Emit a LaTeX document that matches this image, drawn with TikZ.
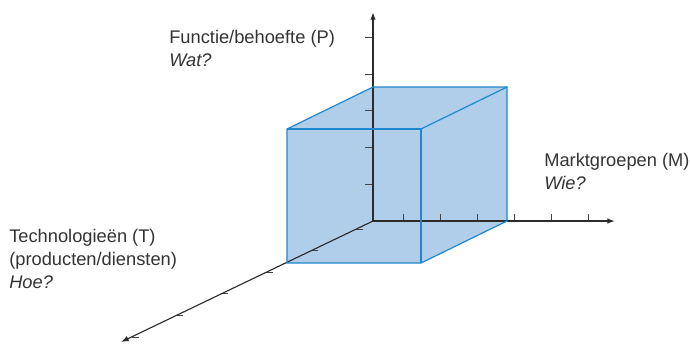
\documentclass[tikz,border=0pt]{standalone}
\usepackage{fontspec}
\setmainfont{Liberation Sans}
\usetikzlibrary{arrows.meta,calc}
\definecolor{cubefillblue}{HTML}{B0CDEA}
\definecolor{cubeedgeblue}{HTML}{1F88CC}
\definecolor{axisgray}{HTML}{2B2B2B}
\definecolor{tickgray}{HTML}{444444}
\definecolor{textgray}{HTML}{333333}
\tikzset{
  >={Latex[length=5.5pt,width=4pt]},
  axis/.style={draw=axisgray, ->, line width=1pt},
  tickmark/.style={draw=tickgray, line width=0.6pt},
  cubeface/.style={fill=cubefillblue},
  cubeedge/.style={draw=cubeedgeblue, line width=0.85pt, line join=miter},
  lbl/.style={
    text=textgray,
    font=\fontsize{13}{16.1}\selectfont,
    align=left,
    inner sep=0pt,
    anchor=base west
  }
}

\begin{document}
\begin{tikzpicture}[x=0.025cm,y=-0.025cm]
  \path[use as bounding box] (0,0) rectangle (690,344);

  % axes
  \coordinate (O) at (373,221);
  \coordinate (ptop) at (373,12);
  \coordinate (mend) at (615,221);
  \coordinate (tend) at (121,342);

  % cube corners: back face on the axes, front face shifted by (-86,42)
  \coordinate (btl) at (373,87);
  \coordinate (btr) at (507,87);
  \coordinate (bbr) at (507,221);
  \coordinate (ftl) at (287,129);
  \coordinate (ftr) at (421,129);
  \coordinate (fbr) at (421,263);
  \coordinate (fbl) at (287,263);

  \fill[cubeface] (ftl) -- (btl) -- (btr) -- (bbr) -- (fbr) -- (fbl) -- cycle;

  \foreach \k in {1,...,5}
    \draw[tickmark] ($(O)+(0,-36.7*\k)$) -- ++(-8,0);
  \foreach \k in {0,...,5}
    \draw[tickmark] ($(O)+(30.3+37.1*\k,0)$) -- ++(0,-7);
  \foreach \t in {0.068,0.246,0.424,0.602,0.78,0.958}
    \draw[tickmark] ($(O)!\t!(tend)$) -- ++(7,0);

  \draw[axis, line width=1.3pt] (O) -- (ptop);
  \draw[axis] (O) -- (mend);
  \draw[axis, line width=0.8pt] (O) -- (tend);

  \draw[cubeedge] (ftl) -- (btl) -- (btr) -- (bbr) -- (fbr) -- (fbl) -- cycle;
  \draw[cubeedge] (ftl) -- (ftr) -- (fbr);
  \draw[cubeedge] (ftr) -- (btr);

  % anchor is the baseline of the last line
  \node[lbl] (plabel) at (169,66.5) {Functie/behoefte (P)\\\textit{Wat?}};
  \node[lbl] (mlabel) at (544,189) {Marktgroepen (M)\\\textit{Wie?}};
  \node[lbl] (tlabel) at (9,288) {Technologieën (T)\\(producten/diensten)\\\textit{Hoe?}};
\end{tikzpicture}
\end{document}
